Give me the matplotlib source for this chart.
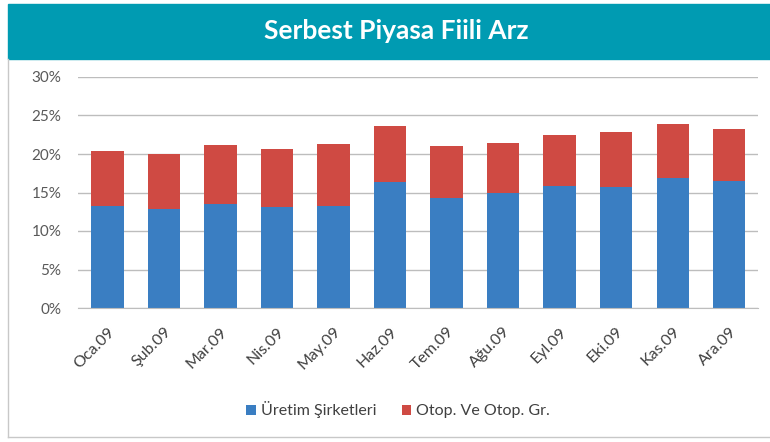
import matplotlib
matplotlib.use('Agg')
import matplotlib.pyplot as plt
import matplotlib.ticker as tck
from matplotlib.patches import Rectangle
from matplotlib.lines import Line2D
import numpy as np

# --- Data ---
months = ['Oca.09', 'Şub.09', 'Mar.09', 'Nis.09', 'May.09', 'Haz.09',
          'Tem.09', 'Ağu.09', 'Eyl.09', 'Eki.09', 'Kas.09', 'Ara.09']
uretim = [13.2, 12.9, 13.5, 13.1, 13.3, 16.4, 14.3, 14.9, 15.9, 15.7, 16.9, 16.5]
otop = [7.2, 7.1, 7.7, 7.5, 8.0, 7.2, 6.8, 6.5, 6.6, 7.2, 7.0, 6.7]
series_names = ['Üretim Şirketleri', 'Otop. Ve Otop. Gr.']
title = 'Serbest Piyasa Fiili Arz'

blue = '#3A7EC2'
red = '#CF4A43'
teal = '#009BB2'

plt.rcParams['font.family'] = ['Lato', 'DejaVu Sans']

fig = plt.figure(figsize=(7.7, 4.42), dpi=100)
W, H = 770, 442

# --- Title band ---
fig.patches.append(Rectangle((8 / W, 1 - 59 / H), 1 - 8 / W, 55 / H,
                             transform=fig.transFigure, color=teal, zorder=0))
fig.text(396 / W, 1 - 31 / H, title, color='white', fontsize=19,
         fontweight='bold', ha='center', va='center')

# --- outer border ---
fig.lines.append(Line2D([8 / W, 8 / W], [1 - 59 / H, 1 - 437 / H],
                        transform=fig.transFigure, color='#C8C8C8', lw=1))
fig.lines.append(Line2D([8 / W, 1], [1 - 437 / H, 1 - 437 / H],
                        transform=fig.transFigure, color='#C8C8C8', lw=1))

# --- Axes ---
ax = fig.add_axes([78 / W, 1 - 308 / H, (758 - 78) / W, (308 - 77) / H])
x = np.arange(len(months))
u = np.array(uretim) / 100
o = np.array(otop) / 100
ax.bar(x, u, width=0.57, color=blue, label=series_names[0], zorder=2)
ax.bar(x, o, width=0.57, bottom=u, color=red, label=series_names[1], zorder=2)

ax.set_ylim(0, 0.30)
ax.set_xlim(-0.52, 11.51)
ax.yaxis.set_major_locator(tck.MultipleLocator(0.05))
ax.yaxis.set_major_formatter(tck.PercentFormatter(1.0, decimals=0))
ax.grid(axis='y', color='#BDBDBD', lw=1, zorder=0)
ax.set_axisbelow(True)
for s in ['top', 'right', 'left']:
    ax.spines[s].set_visible(False)
ax.spines['bottom'].set_color('#BDBDBD')
ax.tick_params(axis='y', length=0, pad=12, labelsize=11, labelcolor='#595959')
ax.tick_params(axis='x', length=0, pad=12, labelsize=11.5, labelcolor='#404040')
ax.set_xticks(x)
ax.set_xticklabels(months, rotation=45, ha='right', rotation_mode='anchor')

leg = fig.legend(loc='center', bbox_to_anchor=(398 / W, 1 - 410 / H), ncol=2,
                 frameon=False, fontsize=11.5, handlelength=0.6, handleheight=0.6,
                 handletextpad=0.3, columnspacing=1.6)
for t in leg.get_texts():
    t.set_color('#404040')

fig.savefig('out.png', dpi=100)
